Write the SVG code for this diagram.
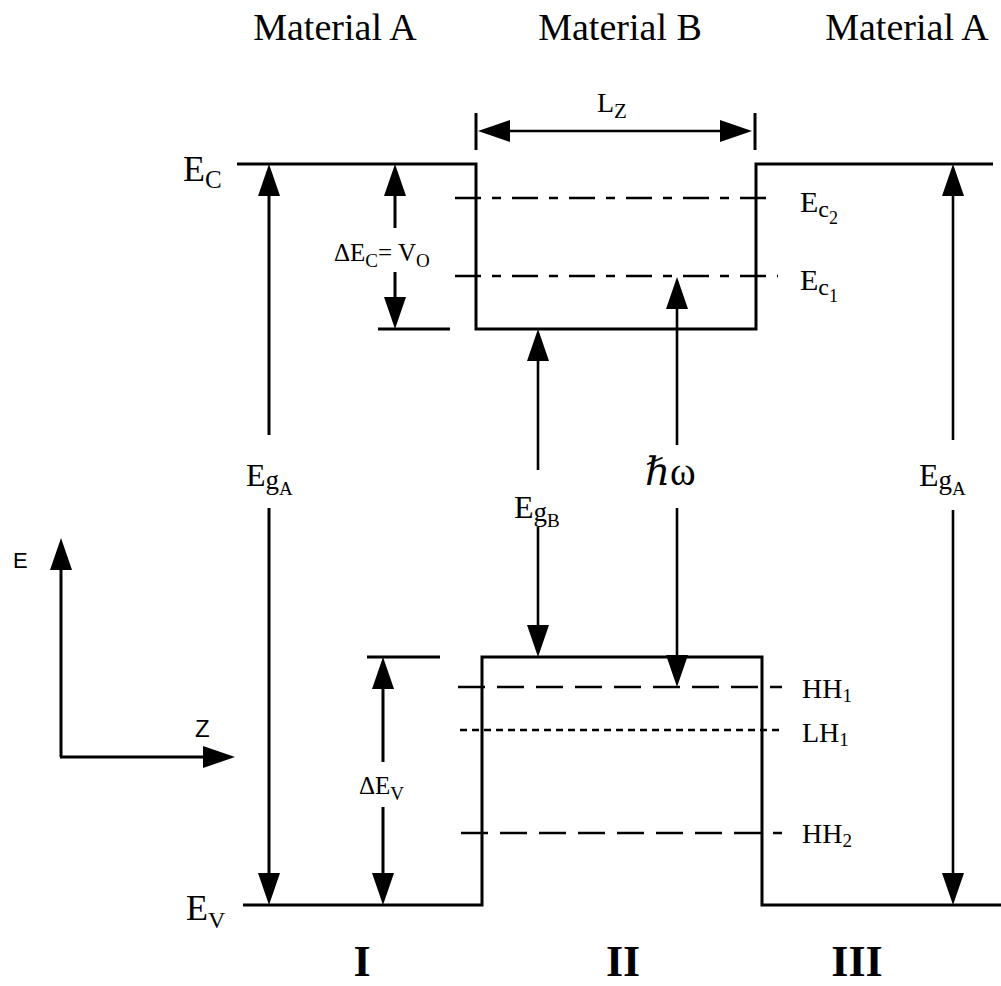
<svg xmlns="http://www.w3.org/2000/svg" width="1001" height="986" viewBox="0 0 1001 986">
<defs>
<marker id="ah" viewBox="0 0 32 22" markerWidth="32" markerHeight="22" refX="0" refY="11" orient="auto-start-reverse" markerUnits="userSpaceOnUse">
<path d="M0,0 L32,11 L0,22 z" fill="#000"/>
</marker>
</defs>
<style>
.ln{fill:none;stroke:#000;stroke-width:3}
.ar{fill:none;stroke:#000;stroke-width:2.6}
.d1{fill:none;stroke:#000;stroke-width:2.6;stroke-dasharray:26 11 9 11}
.d2{fill:none;stroke:#000;stroke-width:2.6;stroke-dasharray:27 12}
.d3{fill:none;stroke:#000;stroke-width:2.6;stroke-dasharray:7 5}
text{font-family:"Liberation Serif","DejaVu Serif",serif;fill:#000}
.sans{font-family:"Liberation Sans","DejaVu Sans",sans-serif}
.mat{font-size:38px;text-anchor:middle}
.rom{font-size:44px;font-weight:bold;text-anchor:middle}
</style>
<rect width="1001" height="986" fill="#fff"/>

<g id="bands">
<path class="ln" d="M237,164 H476 V329 H756 V164 H993"/>
<path class="ln" d="M378,329 H450"/>
<path class="ln" d="M243,905 H482 V657 H762 V905 H1001"/>
<path class="ln" d="M367,657 H440"/>
</g>

<g id="levels">
<path class="d1" d="M455,198 H768"/>
<path class="d1" d="M455,276 H778"/>
<path class="d2" d="M458,687 H782"/>
<path class="d3" d="M460,730 H782"/>
<path class="d2" d="M461,833 H782"/>
</g>

<g id="connectors">
<path class="ln" d="M476,113 V150 M755,113 V150"/>
<line class="ar" x1="510" y1="131" x2="720" y2="131" marker-start="url(#ah)" marker-end="url(#ah)"/>
<line class="ln" x1="269" y1="196" x2="269" y2="435" marker-start="url(#ah)"/>
<line class="ln" x1="269" y1="508" x2="269" y2="873" marker-end="url(#ah)"/>
<line class="ln" x1="395" y1="196" x2="395" y2="228" marker-start="url(#ah)"/>
<line class="ln" x1="395" y1="272" x2="395" y2="297" marker-end="url(#ah)"/>
<line class="ln" x1="383" y1="689" x2="383" y2="762" marker-start="url(#ah)"/>
<line class="ln" x1="383" y1="807" x2="383" y2="873" marker-end="url(#ah)"/>
<line class="ar" x1="538" y1="361" x2="538" y2="470" marker-start="url(#ah)"/>
<line class="ar" x1="538" y1="527" x2="538" y2="625" marker-end="url(#ah)"/>
<line class="ar" x1="677" y1="309" x2="677" y2="445" marker-start="url(#ah)"/>
<line class="ar" x1="677" y1="508" x2="677" y2="655" marker-end="url(#ah)"/>
<line class="ar" x1="953" y1="196" x2="953" y2="440" marker-start="url(#ah)"/>
<line class="ar" x1="953" y1="510" x2="953" y2="873" marker-end="url(#ah)"/>
</g>

<g id="axes">
<line class="ln" x1="61" y1="757" x2="61" y2="570" marker-end="url(#ah)"/>
<line class="ln" x1="60" y1="757" x2="203" y2="757" marker-end="url(#ah)"/>
<text class="sans" x="13" y="568" font-size="22">E</text>
<text class="sans" x="195" y="737" font-size="24">Z</text>
</g>

<g id="headers">
<text class="mat" x="335" y="40">Material A</text>
<text class="mat" x="620" y="40">Material B</text>
<text class="mat" x="907" y="40">Material A</text>
</g>

<g id="labels">
<text x="183" y="181" font-size="36">E<tspan font-size="25" dy="7">C</tspan></text>
<text x="186" y="920" font-size="36">E<tspan font-size="24" dy="8">V</tspan></text>
<text x="334" y="261" font-size="25">ΔE<tspan font-size="19" dy="6">C</tspan><tspan dy="-6">= V</tspan><tspan font-size="19" dy="6">O</tspan></text>
<text x="597" y="112" font-size="28">L<tspan font-size="21" dy="6">Z</tspan></text>
<text x="800" y="212" font-size="30">E<tspan font-size="24" dy="5">c</tspan><tspan font-size="18" dy="7">2</tspan></text>
<text x="800" y="290" font-size="30">E<tspan font-size="24" dy="5">c</tspan><tspan font-size="18" dy="7">1</tspan></text>
<text x="246" y="486" font-size="32">E<tspan font-size="27" dy="3">g</tspan><tspan font-size="19" dy="6">A</tspan></text>
<text x="514" y="518" font-size="32">E<tspan font-size="27" dy="3">g</tspan><tspan font-size="19" dy="6">B</tspan></text>
<text x="919" y="486" font-size="32">E<tspan font-size="27" dy="3">g</tspan><tspan font-size="19" dy="6">A</tspan></text>
<text x="645" y="485" font-size="39">ℏω</text>
<text x="359" y="794" font-size="25">ΔE<tspan font-size="19" dy="6">V</tspan></text>
<text x="802" y="698" font-size="28">HH<tspan font-size="19" dy="4">1</tspan></text>
<text x="802" y="742" font-size="28">LH<tspan font-size="19" dy="4">1</tspan></text>
<text x="802" y="843" font-size="28">HH<tspan font-size="19" dy="4">2</tspan></text>
</g>

<g id="regions">
<text class="rom" x="362" y="976">I</text>
<text class="rom" x="623" y="976">II</text>
<text class="rom" x="857" y="976">III</text>
</g>
</svg>
